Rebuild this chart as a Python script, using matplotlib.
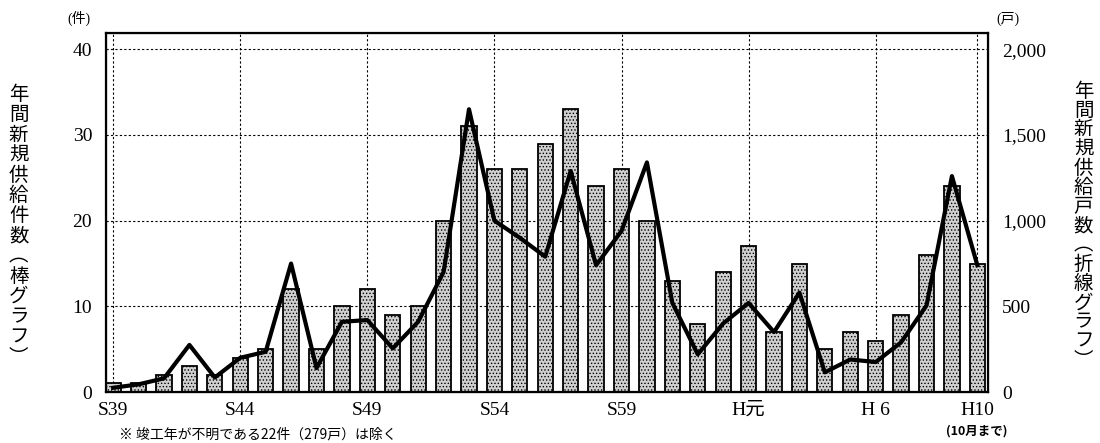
import matplotlib
matplotlib.use("Agg")
import matplotlib.pyplot as plt
import numpy as np

plt.rcParams['font.family'] = ['Liberation Serif', 'Noto Sans CJK JP']
plt.rcParams['hatch.linewidth'] = 0.6

years = ["S39", "S40", "S41", "S42", "S43", "S44", "S45", "S46", "S47", "S48",
         "S49", "S50", "S51", "S52", "S53", "S54", "S55", "S56", "S57", "S58",
         "S59", "S60", "S61", "S62", "S63", "H元", "H2", "H3", "H4", "H5",
         "H6", "H7", "H8", "H9", "H10"]
cases = [1, 1, 2, 3, 2, 4, 5, 12, 5, 10,
         12, 9, 10, 20, 31, 26, 26, 29, 33, 24,
         26, 20, 13, 8, 14, 17, 7, 15, 5, 7,
         6, 9, 16, 24, 15]
units = [25, 45, 80, 275, 85, 200, 235, 750, 140, 410,
         420, 255, 410, 700, 1650, 1000, 900, 790, 1290, 740,
         940, 1340, 520, 220, 400, 520, 350, 580, 115, 190,
         175, 290, 505, 1260, 740]
tick_labels = ["S39", "S44", "S49", "S54", "S59", "H元", "H 6", "H10"]
tick_idx = [0, 5, 10, 15, 20, 25, 30, 34]
left_ticks = [0, 10, 20, 30, 40]
right_ticks = [0, 500, 1000, 1500, 2000]
right_ticklabels = ["0", "500", "1,000", "1,500", "2,000"]

fig = plt.figure(figsize=(11, 4.43), dpi=100)
ax = fig.add_axes([0.0964, 0.115, 0.8018, 0.8105])
x = np.arange(len(years))
ax.bar(x, cases, width=0.6, facecolor='#d0d0d0', edgecolor='black',
       linewidth=1.3, hatch='.....', zorder=2)
ax.set_xlim(-0.28, len(years) - 1 + 0.42)
ax.set_ylim(0, 41.9)
ax.set_yticks(left_ticks)
ax.set_xticks(tick_idx)
ax.set_xticklabels(tick_labels, fontsize=14)
ax.tick_params(axis='both', length=0, labelsize=14)
ax.tick_params(axis='y', pad=10)
ax.tick_params(axis='x', pad=7)
for s in ax.spines.values():
    s.set_linewidth(1.6)
ax.grid(True, linestyle=(0, (2, 2)), color='black', linewidth=0.8, zorder=0)
ax.set_axisbelow(True)

ax2 = ax.twinx()
ax2.plot(x, units, color='black', linewidth=3, zorder=3)
ax2.set_ylim(0, 2000 * 41.9 / 40)
ax2.set_yticks(right_ticks)
ax2.set_yticklabels(right_ticklabels)
ax2.tick_params(axis='y', length=0, labelsize=14, pad=10)

fig.text(0.072, 0.958, "(件)", fontsize=10, ha='center', va='center')
fig.text(0.916, 0.958, "(戸)", fontsize=10, ha='center', va='center')
fig.text(0.888, 0.028, "(10月まで)", fontsize=9, ha='center', va='center',
         family=['Noto Sans CJK JP'], weight='bold')

left_label = "年間新規供給件数︵棒グラフ︶"
right_label = "年間新規供給戸数︵折線グラフ︶"
fig.text(0.017, 0.49, "\n".join(left_label), fontsize=14, ha='center', va='center',
         family=['Noto Sans CJK JP'], linespacing=0.95)
fig.text(0.985, 0.49, "\n".join(right_label), fontsize=14, ha='center', va='center',
         family=['Noto Sans CJK JP'], linespacing=0.89)
fig.text(0.108, 0.003, "※ 竣工年が不明である22件（279戸）は除く", fontsize=10, ha='left',
         va='bottom', family=['Noto Sans CJK JP'])

fig.savefig("out.png", dpi=100)
